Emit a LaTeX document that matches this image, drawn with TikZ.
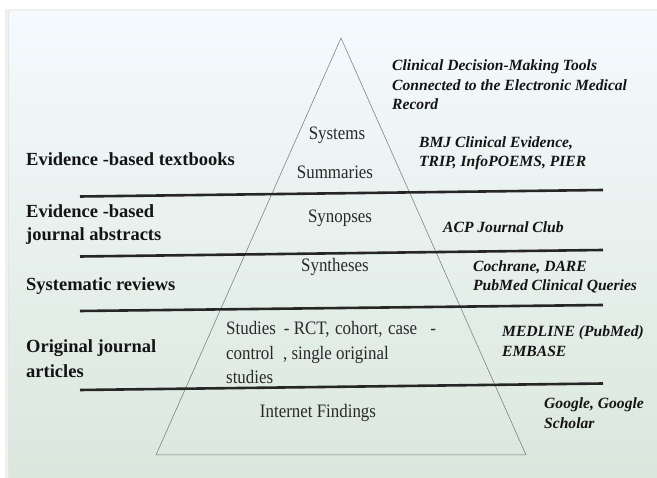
\documentclass[tikz,border=0pt]{standalone}
\usepackage{fontspec}
\setmainfont{Liberation Serif}
\newfontfamily\midfont[FakeStretch=0.89]{Liberation Serif}
\begin{document}
\begin{tikzpicture}[x=1pt,y=-1pt,
  sep/.style={line width=2.6pt,draw=black!85},
  side/.style={line width=0.5pt,draw=black!55},
  lefttxt/.style={font=\bfseries\fontsize{18.5}{23}\selectfont,text=black!92,anchor=west,inner sep=0pt,align=left},
  midtxt/.style={font=\midfont\fontsize{19}{24.5}\selectfont,text=black!84,inner sep=0pt},
  righttxt/.style={font=\bfseries\itshape\fontsize{15.6}{19.5}\selectfont,text=black!92,anchor=west,inner sep=0pt,align=left}]
\definecolor{bgtop}{HTML}{F5FAFE}
\definecolor{bgbot}{HTML}{DAE7DD}
\useasboundingbox (0,0) rectangle (657,478);
\fill[white] (0,0) rectangle (657,478);
\fill[black!6] (5,9) rectangle (657,478);
\fill[black!10] (7.5,11) rectangle (657,478);
\shade[top color=bgtop,bottom color=bgbot] (9.5,12) rectangle (657,478);
% pyramid
\coordinate (apex) at (341,38);
\coordinate (bl) at (156,455);
\coordinate (br) at (526,455);
\draw[side] (bl) -- (apex) -- (br) -- cycle;
% separators
\coordinate (s1a) at (80,196.5); \coordinate (s1b) at (603,190);
\coordinate (s2a) at (80,256.5); \coordinate (s2b) at (603,250);
\coordinate (s3a) at (80,311); \coordinate (s3b) at (603,305);
\coordinate (s4a) at (80,390); \coordinate (s4b) at (603,383.5);
\draw[sep] (s1a) -- (s1b);
\draw[sep] (s2a) -- (s2b);
\draw[sep] (s3a) -- (s3b);
\draw[sep] (s4a) -- (s4b);
% left labels
\node[lefttxt] (l1) at (26,159) {Evidence -based textbooks};
\node[lefttxt] (l2) at (26,225) {Evidence -based\\journal abstracts};
\node[lefttxt,font=\bfseries\fontsize{18.5}{24.5}\selectfont] (l3) at (26,286) {Systematic reviews};
\node[lefttxt,font=\bfseries\fontsize{18.5}{24.5}\selectfont] (l4) at (26,358.5) {Original journal\\articles};
% middle labels
\node[midtxt] (m1) at (337,135) {Systems};
\node[midtxt] (m2) at (335,172) {Summaries};
\node[midtxt] (m3) at (340,218) {Synopses};
\node[midtxt] (m4) at (335,267) {Syntheses};
\node[midtxt,anchor=west,align=left] (m5) at (226,353) {Studies\hspace{8pt}- RCT,\hspace{5.5pt}cohort,\hspace{5.5pt}case\hspace{13pt}-\\control\hspace{9pt}, single original\\studies};
\node[midtxt] (m6) at (318,413) {Internet Findings};
% right labels
\node[righttxt] (r1) at (392,85) {Clinical Decision-Making Tools\\Connected to the Electronic Medical\\Record};
\node[righttxt] (r2) at (419,153.5) {BMJ Clinical Evidence,\\TRIP, InfoPOEMS, PIER};
\node[righttxt] (r3) at (443,227) {ACP Journal Club};
\node[righttxt] (r4) at (473,277) {Cochrane, DARE\\PubMed Clinical Queries};
\node[righttxt] (r5) at (502,341) {MEDLINE (PubMed)\\EMBASE};
\node[righttxt] (r6) at (544,413) {Google, Google\\Scholar};
\end{tikzpicture}
\end{document}
